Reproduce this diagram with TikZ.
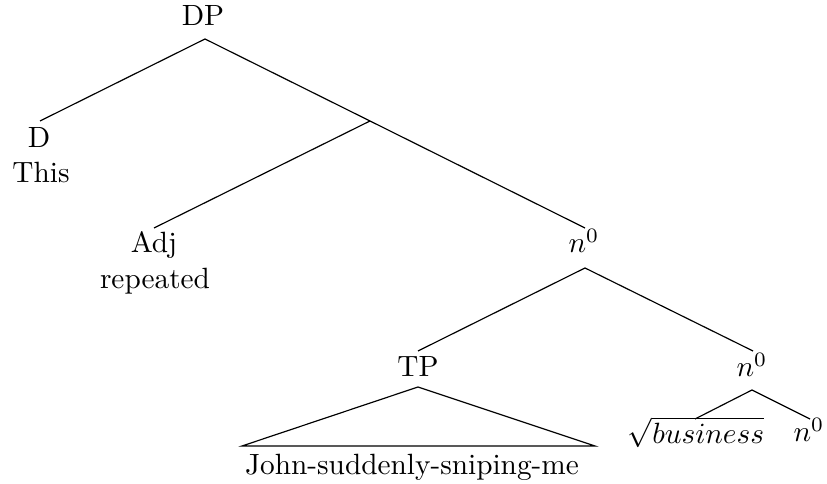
\documentclass[tikz,border=0pt]{standalone}
\begin{document}
\begin{tikzpicture}[x=0.3412pt,y=-0.3412pt,
  lbl/.style={anchor=base,inner sep=0pt,font=\fontsize{10}{12}\selectfont},
  branch/.style={line width=0.4pt}]
\useasboundingbox (0,0) rectangle (827,484);
% labels
\node[lbl] (dp) at (203,26) {DP};
\node[lbl] (d) at (39,148) {D};
\node[lbl] (this) at (41,183) {This};
\node[lbl] (adj) at (154,253) {Adj};
\node[lbl] (rep) at (155,289) {repeated};
\node[lbl] (n1) at (584,253) {$n^0$};
\node[lbl] (tp) at (418,377) {TP};
\node[lbl] (n2) at (752,377) {$n^0$};
\node[lbl] (root) at (696,444) {$\sqrt{business}$};
\node[lbl] (n3) at (809,442) {$n^0$};
\node[lbl] (john) at (412,475) {John-suddenly-sniping-me};
% attachment points
\coordinate (dp-b) at (205,39);
\coordinate (d-t) at (40,121);
\coordinate (bar) at (370,121);
\coordinate (adj-t) at (154,228);
\coordinate (n1-t) at (585,228);
\coordinate (n1-b) at (585,268);
\coordinate (tp-t) at (418,351);
\coordinate (n2-t) at (753,351);
\coordinate (tp-b) at (418,387);
\coordinate (tri-l) at (242,446);
\coordinate (tri-r) at (595,446);
\coordinate (n2-b) at (752,390);
\coordinate (root-t) at (695,419);
\coordinate (n3-t) at (810,419);
% branches
\draw[branch] (d-t) -- (dp-b) -- (bar) -- (n1-t);
\draw[branch] (adj-t) -- (bar);
\draw[branch] (tp-t) -- (n1-b) -- (n2-t);
\draw[branch] (tp-b) -- (tri-l) -- (tri-r) -- cycle;
\draw[branch] (root-t) -- (n2-b) -- (n3-t);
\end{tikzpicture}
\end{document}
